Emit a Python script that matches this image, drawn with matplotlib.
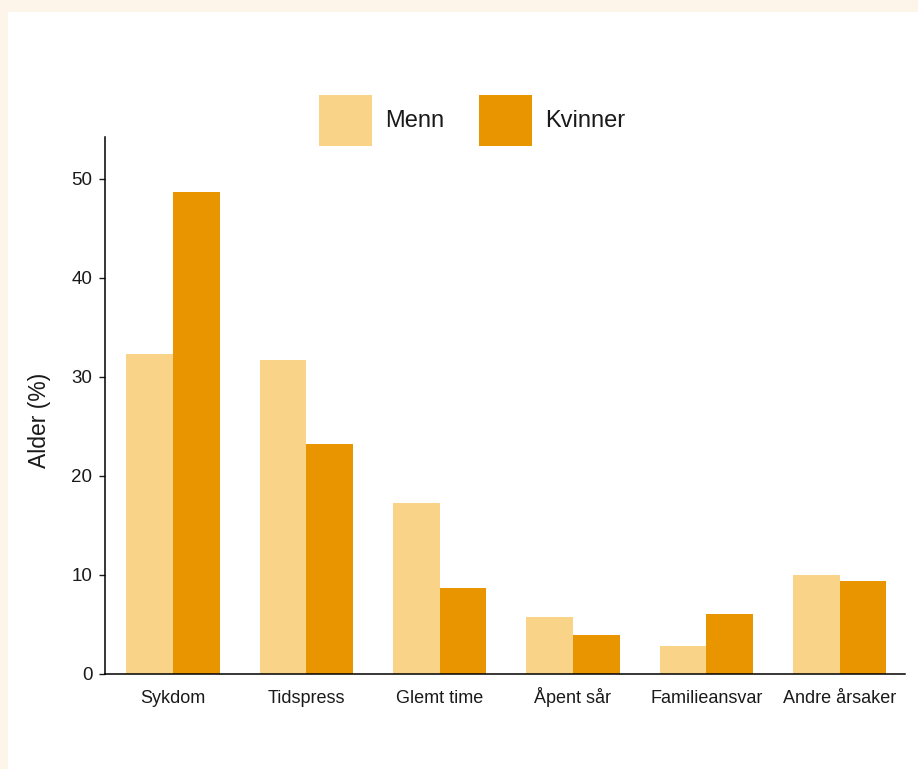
import numpy as np
import matplotlib.pyplot as plt
from matplotlib.patches import Rectangle

plt.rcParams['font.family'] = ['Liberation Sans', 'DejaVu Sans']

categories = ['Sykdom', 'Tidspress', 'Glemt time', 'Åpent sår', 'Familieansvar', 'Andre årsaker']
menn = [32.3, 31.7, 17.3, 5.8, 2.8, 10.0]
kvinner = [48.6, 23.2, 8.7, 3.9, 6.1, 9.4]
yticks = [0, 10, 20, 30, 40, 50]

light = '#f9d388'
dark = '#e89500'
txt = '#1a1a1a'

fig = plt.figure(figsize=(9.18, 7.69), dpi=100)
fig.patch.set_facecolor('#fdf5e9')
# white panel behind everything
panel = Rectangle((8 / 918, 0), 1, 1 - 12 / 769, transform=fig.transFigure,
                  facecolor='white', edgecolor='none', zorder=-10)
fig.patches.append(panel)

ax = fig.add_axes([105 / 918, 95 / 769, 800 / 918, 537 / 769])
ax.set_facecolor('none')
ax.set_zorder(5)

x = np.arange(len(categories))
w = 0.35
b1 = ax.bar(x - w / 2, menn, w, color=light, label='Menn')
b2 = ax.bar(x + w / 2, kvinner, w, color=dark, label='Kvinner')

ax.set_xlim(-0.51, len(categories) - 0.51)
ax.set_ylim(0, 54.2)
ax.set_yticks(yticks)
ax.set_xticks(x)
ax.set_xticklabels(categories, va='baseline')

for s in ['top', 'right']:
    ax.spines[s].set_visible(False)
for s in ['left', 'bottom']:
    ax.spines[s].set_linewidth(1.1)
    ax.spines[s].set_color('black')

ax.tick_params(axis='y', length=4, width=1, pad=5, labelsize=13.5, colors=txt)
ax.tick_params(axis='x', length=0, pad=21, labelsize=13, colors=txt)
ax.set_ylabel('Alder (%)', fontsize=16.5, color=txt)
ax.yaxis.set_label_coords(-0.0675, 0.473)

leg = fig.legend(handles=[b1, b2], labels=['Menn', 'Kvinner'], loc='center',
                 bbox_to_anchor=(472 / 918, 1 - 120.5 / 769), ncol=2, frameon=False,
                 fontsize=17, handlelength=2.25, handleheight=2.9, handletextpad=0.55,
                 columnspacing=1.48, borderpad=0, labelcolor=txt)
leg.set_zorder(6)

fig.savefig('out.png', dpi=100, facecolor=fig.get_facecolor())
